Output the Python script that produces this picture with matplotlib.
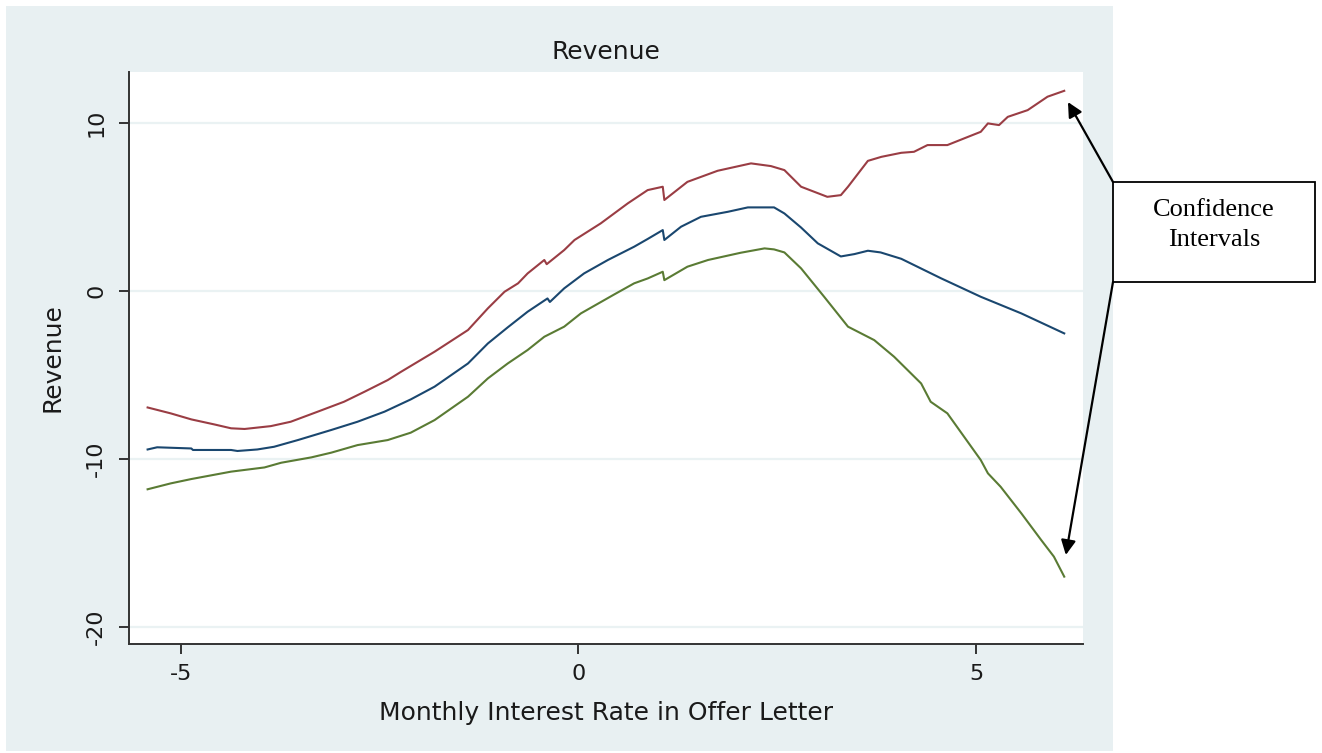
import matplotlib
matplotlib.use("Agg")
import matplotlib.pyplot as plt
from matplotlib.patches import Rectangle

# ---- data ----
upper_x = [-5.42, -5.13, -4.87, -4.58, -4.37, -4.20, -3.87, -3.62, -3.28, -2.95, -2.69, -2.40,
           -2.23, -1.81, -1.39, -1.14, -0.93, -0.76, -0.64, -0.43, -0.40, -0.18, -0.05, 0.28,
           0.62, 0.87, 1.06, 1.08, 1.37, 1.75, 2.17, 2.42, 2.59, 2.80, 3.13, 3.30, 3.39, 3.64,
           3.81, 4.06, 4.22, 4.39, 4.64, 4.90, 5.06, 5.15, 5.29, 5.40, 5.65, 5.90, 6.11]
upper_y = [-6.93, -7.28, -7.64, -7.94, -8.17, -8.21, -8.04, -7.78, -7.18, -6.59, -5.99, -5.30,
           -4.80, -3.61, -2.32, -1.03, -0.04, 0.46, 1.05, 1.85, 1.60, 2.44, 3.04, 4.03,
           5.22, 6.01, 6.21, 5.42, 6.50, 7.16, 7.60, 7.44, 7.20, 6.21, 5.61, 5.71, 6.21, 7.75,
           7.99, 8.23, 8.29, 8.69, 8.69, 9.18, 9.48, 9.98, 9.88, 10.37, 10.77, 11.57, 11.92]

mid_x = [-5.42, -5.30, -4.87, -4.85, -4.37, -4.29, -4.04, -3.83, -3.53, -3.11, -2.78, -2.44,
         -2.11, -1.81, -1.39, -1.14, -0.89, -0.64, -0.39, -0.36, -0.18, 0.07, 0.37, 0.70,
         0.87, 1.06, 1.08, 1.29, 1.54, 1.88, 2.13, 2.46, 2.59, 2.80, 3.01, 3.30, 3.47, 3.64,
         3.80, 4.06, 4.56, 5.06, 5.57, 6.11]
mid_y = [-9.43, -9.30, -9.37, -9.46, -9.46, -9.52, -9.43, -9.27, -8.87, -8.27, -7.78, -7.18,
         -6.45, -5.69, -4.31, -3.12, -2.16, -1.23, -0.44, -0.65, 0.16, 1.05, 1.85, 2.64,
         3.10, 3.63, 3.04, 3.83, 4.42, 4.72, 4.98, 4.98, 4.62, 3.78, 2.84, 2.06, 2.20, 2.40,
         2.30, 1.92, 0.76, -0.34, -1.33, -2.52]

lower_x = [-5.42, -5.13, -4.87, -4.37, -3.95, -3.74, -3.36, -3.11, -2.78, -2.40, -2.11, -1.81,
           -1.39, -1.14, -0.89, -0.64, -0.43, -0.18, 0.03, 0.45, 0.70, 0.87, 1.06, 1.08,
           1.37, 1.63, 2.04, 2.34, 2.46, 2.59, 2.80, 3.09, 3.39, 3.72, 3.97, 4.31, 4.43,
           4.64, 4.85, 5.06, 5.15, 5.31, 5.57, 5.82, 5.98, 6.11]
lower_y = [-11.80, -11.45, -11.19, -10.75, -10.50, -10.22, -9.90, -9.62, -9.17, -8.87, -8.43, -7.68,
           -6.29, -5.20, -4.31, -3.51, -2.72, -2.12, -1.33, -0.20, 0.46, 0.75, 1.15, 0.65,
           1.45, 1.85, 2.28, 2.54, 2.48, 2.30, 1.35, -0.34, -2.12, -2.92, -3.91, -5.50, -6.59,
           -7.28, -8.67, -10.06, -10.85, -11.65, -13.23, -14.82, -15.81, -17.00]

x_ticks = [-5, 0, 5]
y_ticks = [-20, -10, 0, 10]
title = "Revenue"
x_label = "Monthly Interest Rate in Offer Letter"
y_label = "Revenue"
note_text = "Confidence\nIntervals"

# ---- figure ----
W, H = 1322, 753
fig = plt.figure(figsize=(W / 100, H / 100), dpi=100, facecolor="white")

def fx(px):
    return px / W

def fy(py):
    return 1 - py / H

# Stata-like outer region (behind the axes)
fig.patches.append(Rectangle((fx(6), fy(751)), fx(1113) - fx(6), fy(6) - fy(751),
                             transform=fig.transFigure, facecolor="#E8F0F2",
                             edgecolor="none", zorder=-10))

ax = fig.add_axes([fx(129), fy(644), fx(1083) - fx(129), fy(72) - fy(644)])
ax.set_zorder(1)
ax.set_facecolor("white")
ax.set_xlim(-5.654, 6.346)
ax.set_ylim(-21.01, 13.04)

for yv in y_ticks:
    ax.axhline(yv, color="#EAF2F3", lw=1.6, zorder=1)

ax.plot(upper_x, upper_y, color="#9A3D44", lw=1.5, zorder=3)
ax.plot(mid_x, mid_y, color="#1A476F", lw=1.5, zorder=3)
ax.plot(lower_x, lower_y, color="#5A7B34", lw=1.5, zorder=3)

for s in ["top", "right"]:
    ax.spines[s].set_visible(False)
for s in ["left", "bottom"]:
    ax.spines[s].set_color("#333333")
    ax.spines[s].set_linewidth(1.4)

ax.set_xticks(x_ticks)
ax.set_yticks(y_ticks)
ax.set_xticklabels([str(v) for v in x_ticks])
ax.set_yticklabels([str(v) for v in y_ticks], rotation=90, va="center")
ax.tick_params(axis="both", direction="out", length=7.5, width=1.4, color="#333333",
               labelsize=16, labelcolor="#1a1a1a")
ax.tick_params(axis="x", pad=7)
ax.tick_params(axis="y", pad=9)

ax.set_title(title, fontsize=18, color="#1a1a1a", y=1.035, pad=0, va="center")
ax.set_xlabel(x_label, fontsize=18, color="#1a1a1a", va="center")
ax.xaxis.set_label_coords(0.5, -0.1206)
ax.set_ylabel(y_label, fontsize=18, color="#1a1a1a", va="center")
ax.yaxis.set_label_coords(-0.0807, 0.5)

# annotation box
fig.patches.append(Rectangle((fx(1113), fy(282)), fx(1315) - fx(1113), fy(182) - fy(282),
                             transform=fig.transFigure, facecolor="white",
                             edgecolor="black", lw=1.3, zorder=5))
fig.text(fx(1214), fy(225), note_text, ha="center", va="center",
         family="Liberation Serif", fontsize=19, linespacing=1.45, zorder=6)

arrow_kw = dict(arrowstyle="-|>", mutation_scale=22, lw=1.6, color="black",
                shrinkA=0, shrinkB=0)
ax.annotate("", xy=(6.157, 11.25), xycoords="data",
            xytext=(fx(1113), fy(182)), textcoords="figure fraction",
            arrowprops=arrow_kw, annotation_clip=False, zorder=6)
ax.annotate("", xy=(6.13, -15.71), xycoords="data",
            xytext=(fx(1113), fy(282)), textcoords="figure fraction",
            arrowprops=arrow_kw, annotation_clip=False, zorder=6)

fig.savefig("out.png", dpi=100, facecolor="white")
